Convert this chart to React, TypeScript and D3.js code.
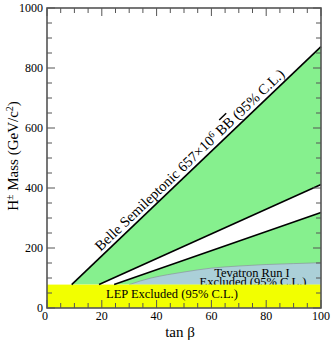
import React from "react";
import * as d3 from "d3";

// limits (tan beta, H+ mass in GeV/c^2)
const belleUpper: [number, number][] = [[9, 78], [100, 871]];
const belleMid: [number, number][] = [[19, 78], [100, 412]];
const belleLow: [number, number][] = [[24.5, 78], [100, 318]];
const tevatron: [number, number][] = [
  [30, 78], [34, 90], [38, 100], [44, 111], [50, 120], [60, 133],
  [70, 140], [80, 145], [90, 148], [100, 151],
];
const lepLimit = 78;
const xTicks = [0, 20, 40, 60, 80, 100];
const yTicks = [0, 200, 400, 600, 800, 1000];

const W = 332;
const H = 345;
const margin = { top: 8, right: 11, bottom: 37, left: 47 };

const App = () => {
  const x = d3.scaleLinear().domain([0, 100]).range([margin.left, W - margin.right]);
  const y = d3.scaleLinear().domain([0, 1000]).range([H - margin.bottom, margin.top]);

  const poly = d3.line<[number, number]>().x(d => x(d[0])).y(d => y(d[1]));
  const tevArea = d3
    .area<[number, number]>()
    .x(d => x(d[0]))
    .y0(y(lepLimit))
    .y1(d => y(d[1]))
    .curve(d3.curveMonotoneX);
  const tevLine = d3
    .line<[number, number]>()
    .x(d => x(d[0]))
    .y(d => y(d[1]))
    .curve(d3.curveMonotoneX);

  const green1 = [belleUpper[0], belleUpper[1], belleMid[1], belleMid[0]] as [number, number][];
  const green2 = [belleLow[0], belleLow[1], [100, lepLimit]] as [number, number][];

  // label along the upper Belle line
  const ang =
    (Math.atan2(y(belleUpper[1][1]) - y(belleUpper[0][1]), x(belleUpper[1][0]) - x(belleUpper[0][0])) * 180) /
    Math.PI;
  const t0 = 20.5;
  const m0 = belleUpper[0][1] + ((belleUpper[1][1] - belleUpper[0][1]) / (belleUpper[1][0] - belleUpper[0][0])) * (t0 - belleUpper[0][0]);

  const x0 = x(0), x1 = x(100), y0 = y(0), y1 = y(1000);
  const axisCol = "#555";
  const font = "'Liberation Serif', 'Times New Roman', Times, serif";

  return (
    <>
      <style>{`body{margin:0}`}</style>
      <svg width={W} height={H} style={{ display: "block", fontFamily: font }}>
        <path d={poly(green1) + "Z"} fill="#86f08e" />
        <path d={poly(green2) + "Z"} fill="#86f08e" />
        <path d={tevArea(tevatron) || ""} fill="#abd0d8" />
        <path d={tevLine(tevatron) || ""} fill="none" stroke="#889" strokeWidth={0.6} />
        <text x={252} y={277} fontSize={12.5} textAnchor="middle">Tevatron Run I</text>
        <text x={253} y={286} fontSize={12.5} textAnchor="middle">Excluded (95% C.L.)</text>

        <rect x={x0} y={y(lepLimit)} width={x1 - x0} height={y0 - y(lepLimit)} fill="#f2ff00" />
        <text x={106} y={298} fontSize={12.5}>LEP Excluded (95% C.L.)</text>

        {[belleUpper, belleMid, belleLow].map((l, i) => (
          <path key={i} d={poly(l) || ""} stroke="#000" strokeWidth={1.6} fill="none" />
        ))}

        <text transform={`translate(${x(t0)},${y(m0)}) rotate(${ang})`} y={-4} fontSize={14.5}>
          Belle Semileptonic 657×10
          <tspan baselineShift="super" fontSize={9.5}>6</tspan> B
          <tspan style={{ textDecoration: "overline" }}>B</tspan> (95% C.L.)
        </text>

        {/* frame with inward ticks */}
        <rect x={x0} y={y1} width={x1 - x0} height={y0 - y1} fill="none" stroke={axisCol} strokeWidth={1.6} />
        {d3.range(0, 101, 5).map(v => {
          const len = v % 20 === 0 ? 8 : 5;
          return (
            <g key={"x" + v} stroke={axisCol} strokeWidth={1}>
              <line x1={x(v)} x2={x(v)} y1={y0} y2={y0 - len} />
              <line x1={x(v)} x2={x(v)} y1={y1} y2={y1 + len} />
            </g>
          );
        })}
        {d3.range(0, 1001, 50).map(v => {
          const len = v % 200 === 0 ? 8 : 5;
          return (
            <g key={"y" + v} stroke={axisCol} strokeWidth={1}>
              <line x1={x0} x2={x0 + len} y1={y(v)} y2={y(v)} />
              <line x1={x1} x2={x1 - len} y1={y(v)} y2={y(v)} />
            </g>
          );
        })}
        {xTicks.map(v => (
          <text key={"xl" + v} x={x(v) - (v === 0 ? 2 : 0)} y={y0 + 12} fontSize={12} textAnchor="middle">{v}</text>
        ))}
        {yTicks.map(v => (
          <text key={"yl" + v} x={x0 - 4} y={y(v) + 4} fontSize={12} textAnchor="end">{v}</text>
        ))}

        <text x={180} y={337} fontSize={15} textAnchor="middle">tan β</text>
        <text transform={`translate(18,156) rotate(-90)`} fontSize={15} textAnchor="middle">
          H<tspan baselineShift="super" fontSize={10}>±</tspan> Mass (GeV/c
          <tspan baselineShift="super" fontSize={10}>2</tspan>)
        </text>
      </svg>
    </>
  );
};

export default App;
